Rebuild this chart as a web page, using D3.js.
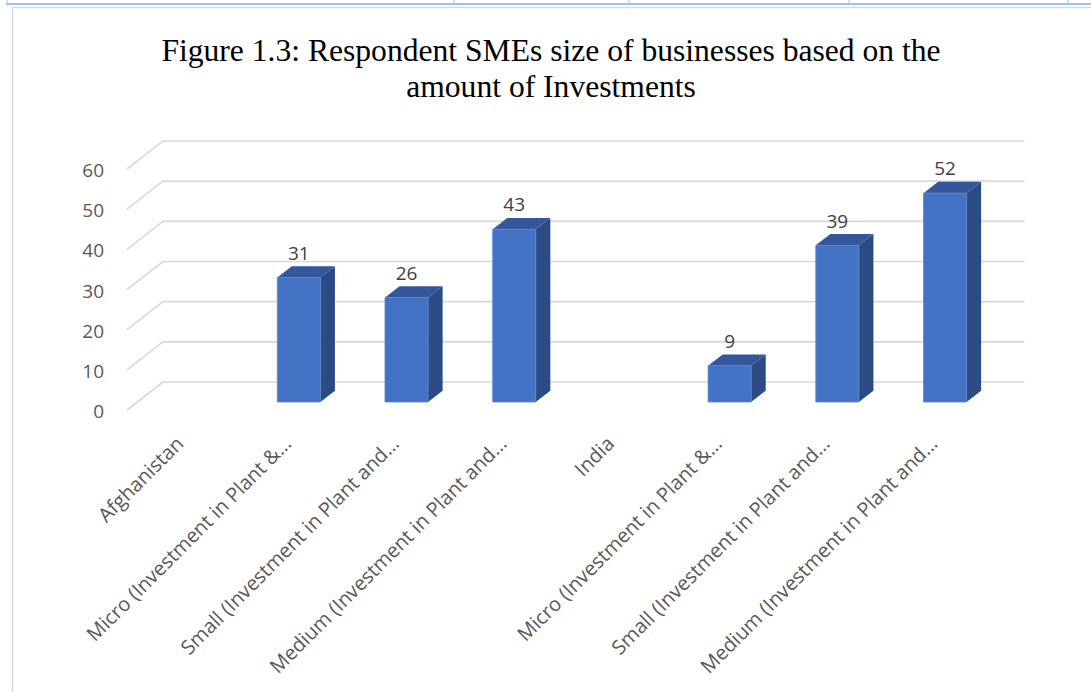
<!DOCTYPE html>
<html>
<head>
<meta charset="utf-8">
<script src="https://cdn.jsdelivr.net/npm/d3@7"></script>
<style>
  html, body { margin: 0; padding: 0; background: #fff; }
  svg { display: block; }
</style>
</head>
<body>
<svg id="chart" width="1091" height="692"></svg>
<script>
const titleLines = ["Figure 1.3: Respondent SMEs size of businesses based on the", "amount of Investments"];
const categories = [
  "Afghanistan",
  "Micro (Investment in Plant &…",
  "Small (Investment in Plant and…",
  "Medium (Investment in Plant and…",
  "India",
  "Micro (Investment in Plant &…",
  "Small (Investment in Plant and…",
  "Medium (Investment in Plant and…"
];
const values = [null, 31, 26, 43, null, 9, 39, 52];
const yTicks = [0, 10, 20, 30, 40, 50, 60];
const tableTicks = [7, 454, 629, 849, 1068];

const svg = d3.select("#chart");

// page decorations (table border above the chart)
svg.append("line").attr("x1", 6).attr("x2", 1091).attr("y1", 4).attr("y2", 4)
  .attr("stroke", "#9dc3e6").attr("stroke-width", 2);
svg.selectAll("line.tt").data(tableTicks).join("line").attr("class", "tt")
  .attr("x1", d => d).attr("x2", d => d).attr("y1", 0).attr("y2", 4)
  .attr("stroke", "#9dc3e6").attr("stroke-width", 1);
// chart area border
svg.append("rect").attr("x", 12.5).attr("y", 7.5).attr("width", 1100).attr("height", 700)
  .attr("fill", "none").attr("stroke", "#d9d9d9").attr("stroke-width", 1.5);

// title
svg.append("g").selectAll("text").data(titleLines).join("text")
  .attr("x", 551).attr("y", (d, i) => 61 + i * 36)
  .attr("text-anchor", "middle")
  .attr("font-family", "'Liberation Serif', 'Times New Roman', serif")
  .attr("font-size", 31.6).attr("fill", "#000")
  .text(d => d);

// 3D frame geometry
const X0 = 127, X1 = 988.6;
const DX = 36, DY = 28;
const y = d3.scaleLinear().domain([0, 60]).range([410, 169]);
const x = d3.scaleBand().domain(d3.range(categories.length)).range([X0, X1])
  .paddingInner(0.6).paddingOuter(0.3);
const P = (px, v, t) => [px + DX * t, y(v) - DY * t];

// gridlines: side wall diagonal + back wall horizontal
const line = d3.line();
svg.append("g").selectAll("path").data(yTicks).join("path")
  .attr("d", v => line([P(X0, v, 0), P(X0, v, 1), P(X1, v, 1)]))
  .attr("fill", "none").attr("stroke", "#d9d9d9").attr("stroke-width", 1.6);

// y labels
svg.append("g").selectAll("text").data(yTicks).join("text")
  .attr("x", 104).attr("y", v => y(v) + 1)
  .attr("text-anchor", "end").attr("dominant-baseline", "central")
  .attr("font-family", "'Open Sans', sans-serif").attr("font-size", 19)
  .attr("fill", "#595959").text(v => v);

// bars
const t0 = 8 / 28, t1 = 0.69;
const barData = values.map((v, i) => ({ i, v })).filter(d => d.v != null);
const gb = svg.append("g");
barData.forEach(d => {
  const xl = x(d.i), xr = x(d.i) + x.bandwidth();
  const fTL = P(xl, d.v, t0), fTR = P(xr, d.v, t0), fBR = P(xr, 0, t0), fBL = P(xl, 0, t0);
  const bTL = P(xl, d.v, t1), bTR = P(xr, d.v, t1), bBR = P(xr, 0, t1);
  gb.append("path").attr("d", line([fTR, bTR, bBR, fBR]) + "Z").attr("fill", "#2b4b85");
  gb.append("path").attr("d", line([fTL, fTR, bTR, bTL]) + "Z").attr("fill", "#33579a");
  gb.append("path").attr("d", line([fTL, fTR, fBR, fBL]) + "Z").attr("fill", "#4472c4")
    .attr("stroke", "#5a85d0").attr("stroke-width", 0.8);
  gb.append("text")
    .attr("x", (fTL[0] + fTR[0]) / 2).attr("y", bTL[1] - 6.5)
    .attr("text-anchor", "middle")
    .attr("font-family", "'Open Sans', sans-serif").attr("font-size", 19)
    .attr("fill", "#404040").text(d.v);
});

// category labels
svg.append("g").selectAll("text").data(categories).join("text")
  .attr("transform", (d, i) => `translate(${x(i) + x.bandwidth() / 2 + 4},445) rotate(-45)`)
  .attr("text-anchor", "end")
  .attr("font-family", "'Open Sans', sans-serif").attr("font-size", 20)
  .attr("fill", "#595959").text(d => d);
</script>
</body>
</html>
